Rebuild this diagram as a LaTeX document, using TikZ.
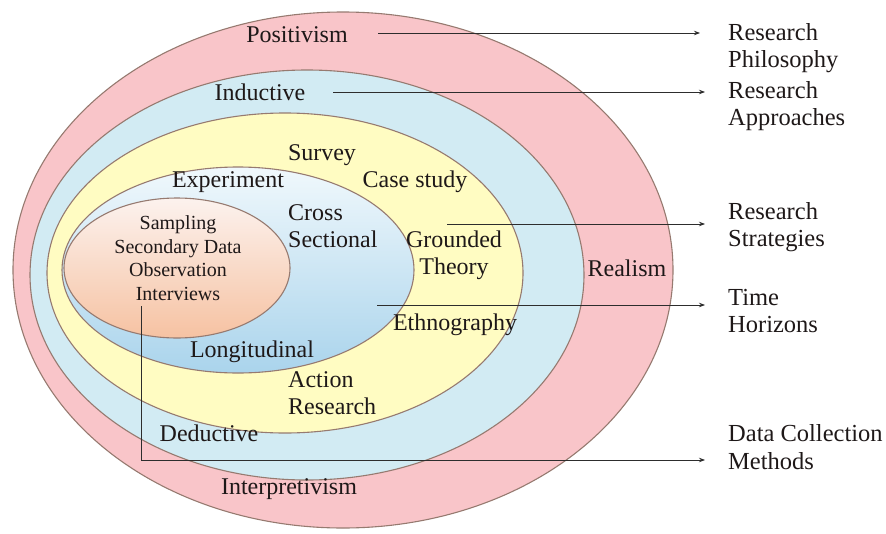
\documentclass[tikz,border=0pt]{standalone}
\usepackage{fontspec}
\setmainfont{Liberation Serif}
\usetikzlibrary{arrows.meta}
\definecolor{pinkband}{RGB}{249,197,201}
\definecolor{blueband}{RGB}{210,235,243}
\definecolor{yellowband}{RGB}{255,252,194}
\definecolor{innerbluetop}{RGB}{240,248,252}
\definecolor{innerbluebot}{RGB}{170,212,236}
\definecolor{orangetop}{RGB}{252,242,238}
\definecolor{orangebot}{RGB}{246,194,162}
\definecolor{ringedge}{RGB}{150,122,112}
\definecolor{txt}{RGB}{30,24,24}
\definecolor{arrowcol}{RGB}{45,45,45}
\tikzset{
  ring/.style={draw=ringedge, line width=1.1pt},
  lab/.style={font=\fontsize{24}{27}\selectfont, text=txt, inner sep=0pt},
  smalllab/.style={font=\fontsize{20}{23.5}\selectfont, text=txt, inner sep=0pt, align=center},
  sidelab/.style={font=\fontsize{24.5}{27.5}\selectfont, text=txt, inner sep=0pt, anchor=west, align=left},
  pointer/.style={draw=arrowcol, line width=0.8pt, -{Stealth[length=6pt,width=4.5pt]}}
}
\begin{document}
\begin{tikzpicture}[x=1pt,y=-1pt]
\useasboundingbox (0,0) rectangle (886,533);
% rings
\draw[ring, fill=pinkband] (343,270) ellipse [x radius=330, y radius=258];
\draw[ring, fill=blueband] (307,275) ellipse [x radius=277, y radius=205];
\draw[ring, fill=yellowband] (285,273) ellipse [x radius=238, y radius=160];
\draw[ring, top color=innerbluetop, bottom color=innerbluebot] (238,270) ellipse [x radius=176, y radius=103];
\draw[ring, top color=orangetop, bottom color=orangebot] (177,268) ellipse [x radius=113, y radius=70];
% ring labels
\node[lab] (posit) at (297,35) {Positivism};
\node[lab] (induct) at (260,92) {Inductive};
\node[lab] (survey) at (322,155) {Survey};
\node[lab] (exper) at (228,182) {Experiment};
\node[lab] (casest) at (415,182) {Case study};
\node[lab, anchor=west, align=left] (cross) at (288,226) {Cross\\Sectional};
\node[smalllab] (methods) at (178,258) {Sampling\\Secondary Data\\Observation\\Interviews};
\node[lab, align=center] (ground) at (454,255) {Grounded\\Theory};
\node[lab] (realism) at (627,268) {Realism};
\node[lab] (ethno) at (455,325) {Ethnography};
\node[lab] (longit) at (252,352) {Longitudinal};
\node[lab, anchor=west, align=left] (action) at (288,393) {Action\\Research};
\node[lab] (deduct) at (209,433) {Deductive};
\node[lab] (interp) at (289,489) {Interpretivism};
% side labels
\node[sidelab] (philo) at (728,48) {Research\\Philosophy};
\node[sidelab] (approach) at (728,106) {Research\\Approaches};
\node[sidelab] (strat) at (728,227) {Research\\Strategies};
\node[sidelab] (horiz) at (728,311) {Time\\Horizons};
\node[sidelab] (datacol) at (728,447) {Data Collection\\Methods};
% arrow coordinates
\coordinate (s1) at (378,33);  \coordinate (e1) at (700,33);
\coordinate (s2) at (333,92);  \coordinate (e2) at (705,92);
\coordinate (s3) at (447,224); \coordinate (e3) at (705,224);
\coordinate (s4) at (377,305); \coordinate (e4) at (705,305);
\coordinate (s5) at (141,306); \coordinate (k5) at (141,460); \coordinate (e5) at (705,460);
\draw[pointer] (s1) -- (e1);
\draw[pointer] (s2) -- (e2);
\draw[pointer] (s3) -- (e3);
\draw[pointer] (s4) -- (e4);
\draw[pointer] (s5) -- (k5) -- (e5);
\end{tikzpicture}
\end{document}
